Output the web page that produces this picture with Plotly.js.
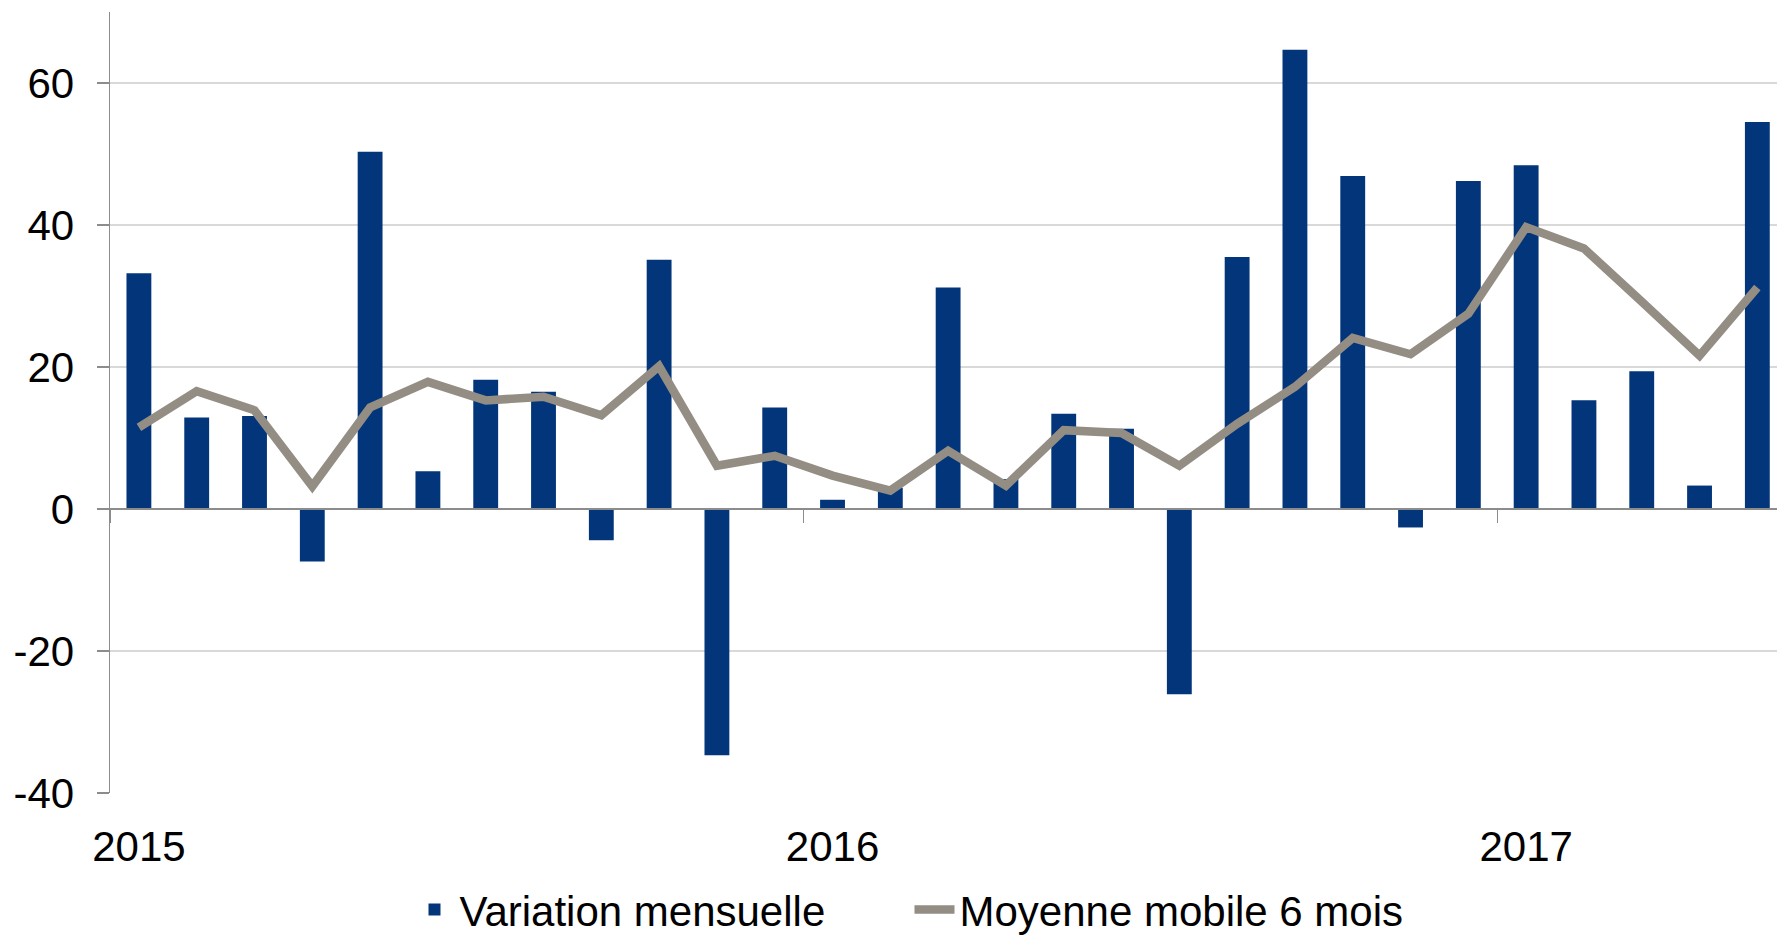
<!DOCTYPE html>
<html>
<head>
<meta charset="utf-8">
<script src="https://cdn.plot.ly/plotly-3.0.1.min.js"></script>
<style>
html,body{margin:0;padding:0;background:#fff;}
#chart{width:1777px;height:936px;}
</style>
</head>
<body>
<div id="chart"></div>
<script>
// Months (categories)
var months = ['2015-01','2015-02','2015-03','2015-04','2015-05','2015-06','2015-07','2015-08','2015-09','2015-10','2015-11','2015-12',
              '2016-01','2016-02','2016-03','2016-04','2016-05','2016-06','2016-07','2016-08','2016-09','2016-10','2016-11','2016-12',
              '2017-01','2017-02','2017-03','2017-04','2017-05'];
// Variation mensuelle
var variationMensuelle = [33.2, 12.9, 13.1, -7.4, 50.3, 5.3, 18.2, 16.5, -4.4, 35.1, -34.7, 14.3,
                          1.3, 3.0, 31.2, 4.2, 13.4, 11.3, -26.1, 35.5, 64.7, 46.9, -2.6, 46.2,
                          48.4, 15.3, 19.4, 3.3, 54.5];
// Moyenne mobile 6 mois
var moyenneMobile = [11.5, 16.6, 13.9, 3.2, 14.3, 17.9, 15.3, 15.8, 13.2, 20.1, 6.1, 7.5,
                     4.7, 2.6, 8.2, 3.3, 11.1, 10.7, 6.1, 12.0, 17.2, 24.1, 21.8, 27.5,
                     39.7, 36.7, 29.2, 21.6, 31.2];
// Year tick labels
var yearTickVals = ['2015-01','2016-01','2017-01'];
var yearTickText = ['2015','2016','2017'];
// Year boundaries (between Dec and Jan)
var yearBoundaries = [-0.5, 11.5, 23.5];
// Y ticks
var yTicks = [-40, -20, 0, 20, 40, 60];
var yTickText = ['-40', '-20', '0', '20', '40', '60'];

var FONT = 'Liberation Sans, Arial, sans-serif';
var yMin = -40, yMax = 70;

var traces = [
  {
    type: 'bar',
    name: 'Variation mensuelle',
    x: months,
    y: variationMensuelle,
    xaxis: 'x',
    yaxis: 'y',
    width: 0.43,
    marker: {color: '#02357a'},
    hoverinfo: 'skip'
  },
  {
    type: 'scatter',
    mode: 'lines',
    name: 'Moyenne mobile 6 mois',
    x: months,
    y: moyenneMobile,
    xaxis: 'x2',
    yaxis: 'y',
    line: {color: '#938d84', width: 8.5},
    hoverinfo: 'skip'
  }
];

var layout = {
  width: 1777,
  height: 936,
  margin: {l: 110, r: 0, t: 12, b: 143, autoexpand: false},
  paper_bgcolor: '#ffffff',
  plot_bgcolor: '#ffffff',
  font: {family: FONT, size: 42, color: '#000000'},
  showlegend: true,
  legend: {
    orientation: 'h',
    x: 0.4796, xanchor: 'center',
    yref: 'container',
    y: 0.028, yanchor: 'middle',
    font: {family: FONT, size: 42, color: '#000000'},
    itemwidth: 40,
    entrywidth: 445,
    bgcolor: 'rgba(0,0,0,0)'
  },
  xaxis: {
    type: 'category',
    range: [-0.5, 28.34],
    automargin: false,
    tickmode: 'array',
    tickvals: yearTickVals,
    ticktext: yearTickText,
    ticks: '',
    showgrid: false,
    showline: false,
    zeroline: false,
    tickfont: {family: FONT, size: 42, color: '#000000'},
    ticklabelstandoff: 25,
    fixedrange: true
  },
  xaxis2: {
    type: 'category',
    overlaying: 'x',
    matches: 'x',
    anchor: 'free',
    automargin: false,
    position: (0 - yMin) / (yMax - yMin),
    side: 'bottom',
    tickmode: 'array',
    tickvals: yearBoundaries,
    ticks: 'outside',
    ticklen: 13,
    tickwidth: 1.3,
    tickcolor: '#8c8c8c',
    showticklabels: false,
    showline: true,
    linecolor: '#8c8c8c',
    linewidth: 2.2,
    showgrid: false,
    zeroline: false,
    fixedrange: true
  },
  yaxis: {
    range: [yMin, yMax],
    automargin: false,
    tickmode: 'array',
    tickvals: yTicks,
    ticktext: yTickText,
    ticks: 'outside',
    ticklen: 12,
    tickwidth: 1.3,
    tickcolor: '#8c8c8c',
    showline: true,
    linecolor: '#8c8c8c',
    linewidth: 1.5,
    showgrid: true,
    gridcolor: '#d9d9d9',
    gridwidth: 1.5,
    zeroline: false,
    tickfont: {family: FONT, size: 42, color: '#000000'},
    ticklabelstandoff: 14,
    fixedrange: true
  }
};

Plotly.newPlot('chart', traces, layout, {displayModeBar: false, staticPlot: true});
</script>
</body>
</html>
